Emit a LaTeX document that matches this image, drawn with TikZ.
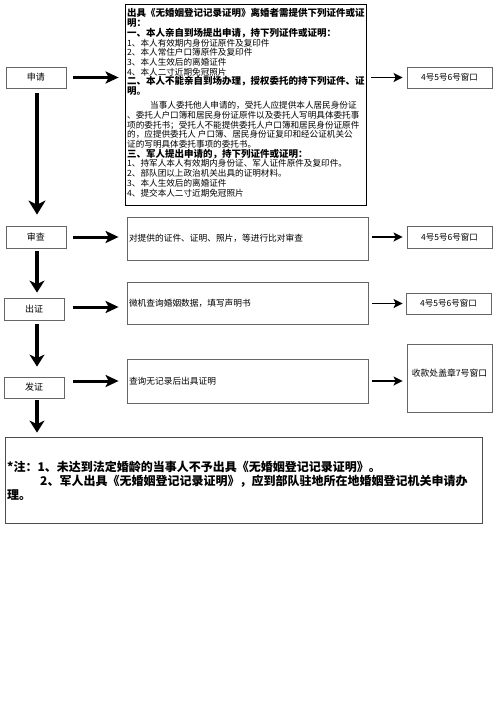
\documentclass[tikz,border=0pt]{standalone}
\usepackage{fontspec}
\setmainfont{Noto Sans CJK SC}
\usetikzlibrary{arrows.meta}
\newcommand\fsz[2]{\fontsize{#1}{#2}\selectfont}
\begin{document}
\begin{tikzpicture}[x=1pt,y=-1pt,
  box/.style={draw=gray!80!black, line width=0.8pt, inner sep=0pt, rectangle},
  stepname/.style={box, minimum width=60pt, minimum height=22pt, font=\fsz{9}{10}},
  midbox/.style={box, minimum width=241pt, text width=237pt, inner xsep=2pt, align=left, font=\fsz{8.7}{10}},
  winbox/.style={box, minimum width=85pt, minimum height=21pt, font=\fsz{8.5}{10}},
  bigdown/.style={line width=3.6pt, -{Stealth[length=14pt,width=17pt,inset=4pt]}},
  downarr/.style={line width=3.2pt, -{Stealth[length=12pt,width=15pt,inset=3.5pt]}},
  harr/.style={line width=3pt, -{Stealth[length=13pt,width=12pt,inset=3pt]}},
  rarr/.style={line width=1.8pt, -{Stealth[length=9pt,width=9pt,inset=2pt]}}
]
\useasboundingbox (0,0) rectangle (496,702);

% left step boxes
\node[stepname, minimum height=21pt] (sq) at (36,77.5) {申请};
\node[stepname] (sc) at (36,237) {审查};
\node[stepname] (cz) at (34,309) {出证};
\node[stepname, minimum height=21pt] (fz) at (34,387.5) {发证};

% top requirement box
\node[box, draw=black, minimum width=241pt, minimum height=201pt] (req) at (245.5,104.5) {};
\node[anchor=north west, inner sep=0pt, align=left, font=\fsz{8.6}{9.7}] (reqtext) at (127,8.5) {%
{\fsz{9.5}{9.7}\bfseries 出具《无婚姻登记记录证明》离婚者需提供下列证件或证}\\
{\fsz{9.5}{9.7}\bfseries 明：}\\
{\fsz{9.5}{9.7}\bfseries 一、本人亲自到场提出申请，持下列证件或证明：}\\
1、本人有效期内身份证原件及复印件\\
2、本人常住户口簿原件及复印件\\
3、本人生效后的离婚证件\\
4、本人二寸近期免冠照片\\
{\fsz{9.5}{9.7}\bfseries 二、本人不能亲自到场办理，授权委托的持下列证件、证}\\
{\fsz{9.5}{9.7}\bfseries 明。}\\[4.5pt]
\hspace*{23pt}当事人委托他人申请的，受托人应提供本人居民身份证\\
、委托人户口簿和居民身份证原件以及委托人写明具体委托事\\
项的委托书；受托人不能提供委托人户口簿和居民身份证原件\\
的，应提供委托人 户口簿、居民身份证复印和经公证机关公\\
证的写明具体委托事项的委托书。\\
{\fsz{9.5}{9.7}\bfseries 三、军人提出申请的，持下列证件或证明：}\\
1、持军人本人有效期内身份证、军人证件原件及复印件。\\
2、部队团以上政治机关出具的证明材料。\\
3、本人生效后的离婚证件\\
4、提交本人二寸近期免冠照片};

% middle boxes
\node[midbox, minimum height=43pt] (scmid) at (247.5,238.5) {对提供的证件、证明、照片，等进行比对审查};
\node[midbox, minimum height=42pt] (czmid) at (247.5,303) {微机查询婚姻数据，填写声明书};
\node[midbox, minimum height=44pt] (fzmid) at (247.5,381) {查询无记录后出具证明};

% window boxes
\node[winbox] (sqwin) at (449.5,77.5) {4号5号6号窗口};
\node[winbox, minimum height=22pt] (scwin) at (449.5,237) {4号5号6号窗口};
\node[winbox] (czwin) at (448.5,303.5) {4号5号6号窗口};
\node[winbox, minimum height=68pt] (fzwin) at (449.5,378) {};
\node[inner sep=0pt, font=\fsz{8.8}{10}] (fzwintext) at (449.5,373) {收款处盖章7号窗口};

% note box
\node[box, draw=gray!60!black, minimum width=477pt, minimum height=86pt] (note) at (243.5,480) {};
\node[anchor=north west, inner sep=0pt, align=left, font=\fsz{12}{14}\bfseries] (notetext) at (7,461) {%
*注：1、未达到法定婚龄的当事人不予出具《无婚姻登记记录证明》。\\
\hspace*{33pt}2、军人出具《无婚姻登记记录证明》，应到部队驻地所在地婚姻登记机关申请办\\
理。};

% horizontal arrows left -> middle
\draw[harr, shorten <=7pt, shorten >=6pt] (sq.east) -- (sq.east -| req.west);
\draw[harr, shorten <=7pt, shorten >=8pt] (sc.east) -- (sc.east -| scmid.west);
\draw[harr, shorten <=9pt, shorten >=8pt] (cz.east |- 0,307) -- (cz.east |- 0,307 -| czmid.west);
\draw[harr, shorten <=9pt, shorten >=8pt] (fz.east |- fzmid.west) -- (fzmid.west);

% arrows middle -> windows
\draw[rarr, shorten <=5pt, shorten >=4pt] (sqwin.west -| req.east) -- (sqwin.west);
\draw[rarr, shorten <=4pt, shorten >=4pt] (scwin.west -| scmid.east) -- (scwin.west);
\draw[rarr, shorten <=4pt, shorten >=3pt] (czwin.west -| czmid.east) -- (czwin.west);
\draw[rarr, shorten <=4pt, shorten >=4pt] (fzmid.east) -- (fzmid.east -| fzwin.west);

% vertical arrows
\draw[bigdown, shorten <=5pt, shorten >=11pt] ([xshift=1pt]sq.south) -- ([xshift=1pt]sq.south |- sc.north);
\draw[downarr, shorten <=3pt, shorten >=5pt] ([xshift=1pt]sc.south) -- ([xshift=1pt]sc.south |- cz.north);
\draw[downarr, shorten <=4pt, shorten >=10pt] ([xshift=3pt]cz.south) -- ([xshift=3pt]cz.south |- fz.north);
\draw[downarr, shorten <=2pt, shorten >=4pt] ([xshift=3pt]fz.south) -- ([xshift=3pt]fz.south |- note.north);
\end{tikzpicture}
\end{document}
